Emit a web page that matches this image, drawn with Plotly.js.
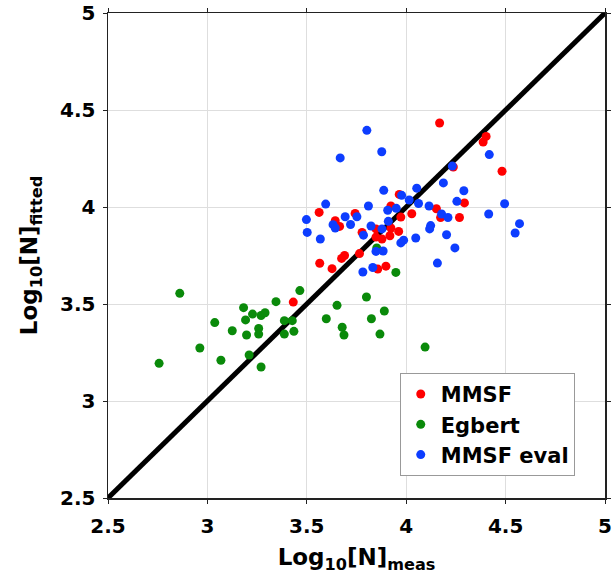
<!DOCTYPE html>
<html>
<head>
<meta charset="utf-8">
<script src="https://cdn.plot.ly/plotly-3.0.1.min.js"></script>
<style>html,body{margin:0;padding:0;background:#fff;}#chart{width:612px;height:584px;}</style>
</head>
<body>
<div id="chart"></div>
<script>
// MMSF (red)
const mmsfX = [4.168,4.402,4.387,4.482,4.237,4.293,4.152,4.173,4.268,3.562,3.743,3.643,3.665,3.923,3.965,3.973,4.028,3.848,3.923,3.962,3.778,3.848,3.878,3.918,3.675,3.690,3.765,3.565,3.627,3.857,3.898,3.432];
const mmsfY = [4.433,4.364,4.335,4.184,4.206,4.021,3.991,3.946,3.946,3.972,3.967,3.929,3.900,4.005,4.065,3.948,3.965,3.887,3.892,3.874,3.869,3.845,3.835,3.852,3.735,3.750,3.760,3.710,3.682,3.680,3.695,3.510];
// Egbert (green)
const egbX = [2.861,3.465,3.345,3.182,3.227,3.270,3.290,3.192,3.037,3.387,3.427,3.652,3.598,3.678,3.687,3.125,3.258,3.258,3.197,3.387,3.435,2.962,3.210,3.068,3.270,2.757,3.948,3.800,3.890,3.825,3.868,4.095,3.852];
const egbY = [3.555,3.569,3.512,3.481,3.448,3.441,3.455,3.418,3.404,3.414,3.414,3.493,3.424,3.380,3.340,3.362,3.374,3.345,3.340,3.345,3.359,3.273,3.237,3.210,3.175,3.194,3.663,3.536,3.464,3.424,3.345,3.278,3.789];
// MMSF eval (blue)
const evalX = [3.802,3.877,3.668,4.232,4.187,3.887,4.053,3.977,4.015,4.062,4.115,4.255,3.595,3.810,3.907,3.950,3.498,3.693,3.752,3.910,4.178,4.210,3.632,3.720,3.643,3.502,3.823,3.878,4.123,4.118,3.785,3.568,4.203,4.048,3.987,3.973,4.245,3.848,3.884,4.157,3.832,3.782,4.418,4.290,4.495,4.415,4.570,4.548];
const evalY = [4.395,4.285,4.253,4.211,4.124,4.086,4.097,4.060,4.036,4.018,4.005,4.029,4.015,4.005,3.983,3.993,3.935,3.950,3.950,3.926,3.964,3.946,3.909,3.910,3.892,3.869,3.902,3.887,3.904,3.887,3.855,3.835,3.857,3.840,3.829,3.815,3.789,3.771,3.773,3.711,3.688,3.665,4.270,4.084,4.017,3.964,3.914,3.866];
// 1:1 line
const lineX = [2.5, 5];
const lineY = [2.5, 5];
const tickVals = [2.5, 3, 3.5, 4, 4.5, 5];
const tickText = ['2.5', '3', '3.5', '4', '4.5', '5'];

const FONT = 'DejaVu Sans, Liberation Sans, Arial, sans-serif';
const mk = (c) => ({color: c, size: 9, line: {width: 0}});

const traces = [
  {x: lineX, y: lineY, mode: 'lines', line: {color: '#000', width: 5}, showlegend: false, hoverinfo: 'skip'},
  {x: mmsfX, y: mmsfY, mode: 'markers', name: 'MMSF', marker: mk('#ff0000')},
  {x: egbX, y: egbY, mode: 'markers', name: 'Egbert', marker: mk('#0a8a0a')},
  {x: evalX, y: evalY, mode: 'markers', name: 'MMSF eval', marker: mk('#0d3dff')}
];

const axisCommon = {
  range: [2.5, 5],
  tickvals: tickVals,
  ticktext: tickText,
  showgrid: true,
  gridcolor: '#dedede',
  gridwidth: 1,
  zeroline: false,
  showline: true,
  linecolor: '#222',
  linewidth: 1.5,
  mirror: 'ticks',
  ticks: 'outside',
  ticklen: 4,
  tickcolor: '#222',
  ticklabeloverflow: 'allow',
  tickfont: {family: FONT, size: 20, color: '#000', weight: 'bold'}
};

const layout = {
  width: 612,
  height: 584,
  margin: {l: 108, r: 7, t: 13, b: 86},
  paper_bgcolor: '#fff',
  plot_bgcolor: '#fff',
  showlegend: true,
  xaxis: Object.assign({}, axisCommon, {
    ticklabelstandoff: 5,
    title: {text: 'Log<sub>10</sub>[N]<sub>meas</sub>', font: {family: FONT, size: 23, color: '#000', weight: 'bold'}, standoff: 12}
  }),
  yaxis: Object.assign({}, axisCommon, {
    ticklabelstandoff: 3,
    title: {text: 'Log<sub>10</sub>[N]<sub>fitted</sub>', font: {family: FONT, size: 23, color: '#000', weight: 'bold'}, standoff: 16}
  }),
  legend: {
    x: 0.587, y: 0.258, xanchor: 'left', yanchor: 'top',
    bgcolor: '#fff', bordercolor: '#999', borderwidth: 1,
    font: {family: FONT, size: 21, color: '#000', weight: 'bold'},
    itemwidth: 30
  }
};

Plotly.newPlot('chart', traces, layout, {displayModeBar: false, staticPlot: true});
</script>
</body>
</html>
